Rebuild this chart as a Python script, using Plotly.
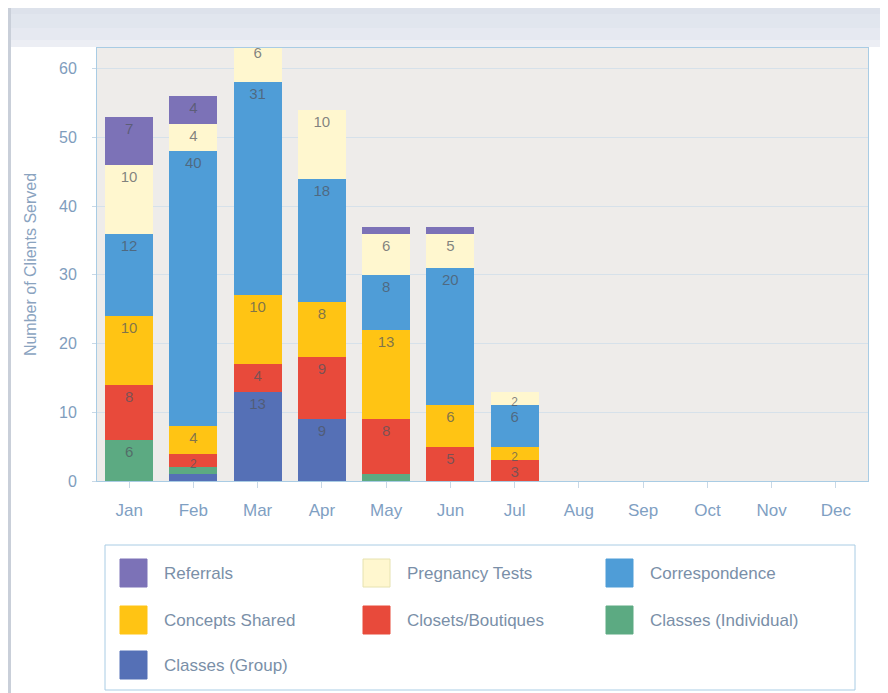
import plotly.graph_objects as go

months = ["Jan", "Feb", "Mar", "Apr", "May", "Jun", "Jul", "Aug", "Sep", "Oct", "Nov", "Dec"]

classes_group = [0, 1, 13, 9, 0, 0, 0, 0, 0, 0, 0, 0]
classes_individual = [6, 1, 0, 0, 1, 0, 0, 0, 0, 0, 0, 0]
closets_boutiques = [8, 2, 4, 9, 8, 5, 3, 0, 0, 0, 0, 0]
concepts_shared = [10, 4, 10, 8, 13, 6, 2, 0, 0, 0, 0, 0]
correspondence = [12, 40, 31, 18, 8, 20, 6, 0, 0, 0, 0, 0]
pregnancy_tests = [10, 4, 6, 10, 6, 5, 2, 0, 0, 0, 0, 0]
referrals = [7, 4, 0, 0, 1, 1, 0, 0, 0, 0, 0, 0]

y_ticks = [0, 10, 20, 30, 40, 50, 60]

# stacking order bottom -> top
series = [
    ("Classes (Group)", classes_group, "#5570b6"),
    ("Classes (Individual)", classes_individual, "#5caa82"),
    ("Closets/Boutiques", closets_boutiques, "#e84a3b"),
    ("Concepts Shared", concepts_shared, "#ffc414"),
    ("Correspondence", correspondence, "#4f9dd7"),
    ("Pregnancy Tests", pregnancy_tests, "#fff7cf"),
    ("Referrals", referrals, "#7c72b7"),
]

# legend layout order (rows of 3)
legend_order = ["Referrals", "Pregnancy Tests", "Correspondence",
                "Concepts Shared", "Closets/Boutiques", "Classes (Individual)",
                "Classes (Group)"]

# page has an 8px body margin; work in page pixel coordinates
OFF = 8
PAGE_W, PAGE_H = 888, 693
W, H = PAGE_W - OFF, PAGE_H - OFF
PL, PR, PT, PB = 97, 868, 48, 481   # plot area in page pixels
ML, MT = PL - OFF, PT - OFF
MR = W - (PR - OFF)
MB = H - (PB - OFF)
PW, PH = PR - PL, PB - PT


def px(x):
    return (x - PL) / PW


def py(y):
    return (PB - y) / PH


fig = go.Figure()
for name, vals, color in series:
    fig.add_trace(go.Bar(
        x=months, y=vals, name=name,
        marker=dict(color=color, line=dict(width=0)),
        text=[str(v) if v >= 2 else "" for v in vals],
        textposition="inside", insidetextanchor="end", textangle=0,
        constraintext="none",
        textfont=dict(family="Liberation Sans, Arial, sans-serif",
                      size=[15 if v >= 3 else 12 for v in vals],
                      color="rgba(80,85,95,0.72)"),
        showlegend=False, hoverinfo="x+y+name",
    ))

shapes = []
annotations = []

# top gradient band
band = [(0, 14, "#dde2eb"), (14, 28, "#e1e6ee"), (28, 40, "#e6e9f1"), (40, 47, "#eceef4")]
for y0, y1, c in band:
    shapes.append(dict(type="rect", xref="paper", yref="paper", x0=px(0), x1=px(PAGE_W),
                       y0=py(y1), y1=py(y0), fillcolor=c, line=dict(width=0), layer="below"))
# left edge line
shapes.append(dict(type="rect", xref="paper", yref="paper", x0=px(OFF), x1=px(OFF + 3),
                   y0=py(PAGE_H), y1=py(0), fillcolor="#c9cfd9", line=dict(width=0), layer="below"))

# legend box
shapes.append(dict(type="rect", xref="paper", yref="paper", x0=px(105), x1=px(855),
                   y0=py(690), y1=py(545), fillcolor="rgba(255,255,255,0)",
                   line=dict(color="#a9cce4", width=1)))

colors = {n: c for n, _, c in series}
col_x = [120, 363, 606]
row_y = [573, 620, 665]
for i, name in enumerate(legend_order):
    cx = col_x[i % 3]
    cy = row_y[i // 3]
    shapes.append(dict(type="rect", xref="paper", yref="paper",
                       x0=px(cx), x1=px(cx + 27), y0=py(cy + 14), y1=py(cy - 14),
                       fillcolor=colors[name],
                       line=dict(color="#e6e2b0" if name == "Pregnancy Tests" else colors[name], width=1)))
    annotations.append(dict(xref="paper", yref="paper", x=px(cx + 42), y=py(cy),
                            text=name, showarrow=False, xanchor="left", yanchor="middle",
                            font=dict(family="Liberation Sans, Arial, sans-serif", size=17,
                                      color="#7a8fa8")))

fig.update_layout(
    width=W, height=H,
    margin=dict(l=ML, r=MR, t=MT, b=MB, pad=0),
    barmode="stack", bargap=0.25,
    paper_bgcolor="white", plot_bgcolor="#eeecea",
    shapes=shapes, annotations=annotations,
    font=dict(family="Liberation Sans, Arial, sans-serif", color="#7d9cbf"),
    xaxis=dict(
        tickfont=dict(size=17, color="#7fa0c3"),
        ticks="outside", ticklen=6, tickcolor="#c8d8e6",
        showline=True, linecolor="#a9cce4", mirror=True,
        ticklabelstandoff=8,
    ),
    yaxis=dict(
        range=[0, 63], tickvals=y_ticks,
        tickfont=dict(size=16, color="#7f9dbd"),
        ticks="outside", ticklen=4, tickcolor="#c8d8e6",
        showgrid=True, gridcolor="#d6e1ea", gridwidth=1,
        showline=True, linecolor="#a9cce4", mirror=True,
        zeroline=False,
        ticklabelstandoff=12,
        title=dict(text="Number of Clients Served", standoff=18,
                   font=dict(size=16, color="#8aa3bf")),
    ),
)

fig.write_html("out.html")
